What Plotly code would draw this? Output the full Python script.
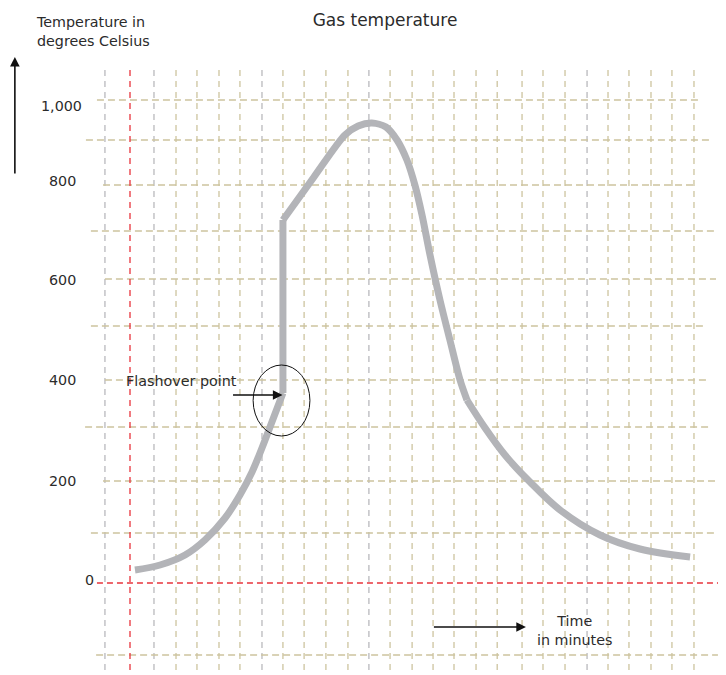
import plotly.graph_objects as go

# ---- data (time in grid-minutes, temperature in degrees) ----
rise_t = [0.23, 1.39, 2.55, 3.47, 4.4, 5.09, 5.65, 6.11, 6.57, 7.08]
rise_T = [26, 36, 56, 86, 130, 176, 222, 270, 322, 380]

jump_t = [7.08, 7.08]
jump_T = [380, 726]

peak_t = [7.08, 8.5, 9.95, 10.56, 11.2, 11.85, 12.36, 12.82, 13.19, 13.52, 13.89, 14.35, 14.81, 15.28, 15.6]
peak_T = [726, 811, 896, 914, 920, 912, 886, 846, 796, 736, 656, 566, 486, 406, 366]

decay_t = [15.6, 16.44, 17.36, 18.52, 19.91, 21.76, 23.61, 25.93]
decay_T = [366, 310, 256, 202, 146, 96, 68, 52]

tick_vals = [954, 804, 606, 406, 204, 6]
tick_text = ["1,000", "800", "600", "400", "200", "0"]

hgrid_T = [966, 886, 796, 704, 608, 514, 406, 312, 204, 100, -144]
vgrid_t = [-1.16, 1.11, 2.13, 3.1, 4.12, 5.09, 6.11, 7.08, 8.06, 9.07, 10.09, 11.06,
           12.04, 13.06, 14.03, 15.0, 16.02, 17.0, 18.15, 19.12, 20.14, 21.16,
           22.13, 23.1, 24.12, 25.09, 26.11]
grey_t = [-1.16, 1.11, 6.11, 11.06, 21.16]

flash_t, flash_T = 7.08, 380

# ---- styling / layout helpers ----
hgrid_x0 = [-1.53, -2.04, -1.25, -1.81, -1.16, -1.81, -1.16, -2.08, -1.25, -1.81, -1.57]
hgrid_x1 = [26.3, 26.85, 26.11, 27.13, 27.13, 26.67, 26.85, 26.85, 27.13, 27.13, 27.22]
tick_x = [-2.12, -2.4, -2.4, -2.4, -2.4, -1.57]

TAN = "#cdc49f"
GREY = "#b9b9bd"
RED = "#e8343c"
CURVE = "#b3b4b8"
TXT = "#2b2b2b"
FONT = "DejaVu Sans"
FS = 14.3

W, H = 718, 667  # page body has an 8px margin

fig = go.Figure()
line_style = dict(color=CURVE, width=7)
fig.add_trace(go.Scatter(x=rise_t, y=rise_T, mode="lines", line=dict(**line_style, shape="spline"), hoverinfo="skip"))
fig.add_trace(go.Scatter(x=jump_t, y=jump_T, mode="lines", line=dict(**line_style), hoverinfo="skip"))
fig.add_trace(go.Scatter(x=peak_t, y=peak_T, mode="lines", line=dict(**line_style, shape="spline", smoothing=0.8), hoverinfo="skip"))
fig.add_trace(go.Scatter(x=decay_t, y=decay_T, mode="lines", line=dict(**line_style, shape="spline"), hoverinfo="skip"))

shapes = []
for t in vgrid_t:
    shapes.append(dict(type="line", xref="x", yref="y", x0=t, x1=t, y0=1026, y1=-210,
                       line=dict(color=GREY if t in grey_t else TAN, width=1.3, dash="6px,5px"),
                       layer="below"))
for T, a, b in zip(hgrid_T, hgrid_x0, hgrid_x1):
    shapes.append(dict(type="line", xref="x", yref="y", x0=a, x1=b, y0=T, y1=T,
                       line=dict(color=TAN, width=1.3, dash="7px,4px"), layer="below"))
# red axes
shapes.append(dict(type="line", xref="x", yref="y", x0=0, x1=0, y0=1026, y1=-210,
                   line=dict(color=RED, width=1.3, dash="6px,5px"), layer="below"))
shapes.append(dict(type="line", xref="x", yref="y", x0=-1.53, x1=28, y0=0, y1=0,
                   line=dict(color=RED, width=1.3, dash="6px,4px"), layer="below"))
# flashover ellipse
shapes.append(dict(type="circle", xref="x", yref="y", x0=5.7, x1=8.33, y0=294, y1=436,
                   line=dict(color="#111111", width=1)))

annotations = []
for v, txt, x in zip(tick_vals, tick_text, tick_x):
    annotations.append(dict(x=x, y=v, xref="x", yref="y", text=txt, showarrow=False,
                            xanchor="right", yanchor="middle", font=dict(family=FONT, size=FS, color=TXT)))
annotations.append(dict(x=-4.45, y=1142, xref="x", yref="y", text="Temperature in<br>degrees Celsius",
                        showarrow=False, xanchor="left", yanchor="top", align="left",
                        font=dict(family=FONT, size=FS, color=TXT)))
annotations.append(dict(x=-0.29, y=404, xref="x", yref="y", text="Flashover point", showarrow=False,
                        xanchor="left", yanchor="middle", font=dict(family=FONT, size=FS, color=TXT)))
annotations.append(dict(x=20.6, y=-94, xref="x", yref="y", text="Time<br>in minutes", showarrow=False,
                        xanchor="center", yanchor="middle", align="center",
                        font=dict(family=FONT, size=FS, color=TXT)))
# arrows
annotations.append(dict(x=flash_t - 0.02, y=376, ax=4.7, ay=376, xref="x", yref="y", axref="x", ayref="y",
                        text="", showarrow=True, arrowhead=2, arrowsize=1.2, arrowwidth=1.6, arrowcolor="#111111"))
annotations.append(dict(x=18.33, y=-88, ax=14.0, ay=-88, xref="x", yref="y", axref="x", ayref="y",
                        text="", showarrow=True, arrowhead=2, arrowsize=1.2, arrowwidth=1.6, arrowcolor="#111111"))
annotations.append(dict(x=-5.33, y=1052, ax=-5.33, ay=816, xref="x", yref="y", axref="x", ayref="y",
                        text="", showarrow=True, arrowhead=2, arrowsize=1.2, arrowwidth=1.6, arrowcolor="#111111"))

# axis ranges: reference pixel 130 -> t=0, 21.6 px per minute; pixel 583 -> 0 degrees, 0.5 px per degree
fig.update_layout(
    width=W, height=H,
    margin=dict(l=0, r=0, t=0, b=0),
    paper_bgcolor="white", plot_bgcolor="white",
    showlegend=False,
    xaxis=dict(range=[-122 / 21.6, (W - 122) / 21.6], visible=False, fixedrange=True),
    yaxis=dict(range=[-(H - 575) / 0.5, 575 / 0.5], visible=False, fixedrange=True),
    shapes=shapes,
    annotations=annotations,
    title=dict(text="Gas temperature", x=377 / W, xanchor="center", y=1 - 12 / H, yanchor="middle",
               font=dict(family=FONT, size=17, color=TXT)),
)

fig.write_html("out.html")
